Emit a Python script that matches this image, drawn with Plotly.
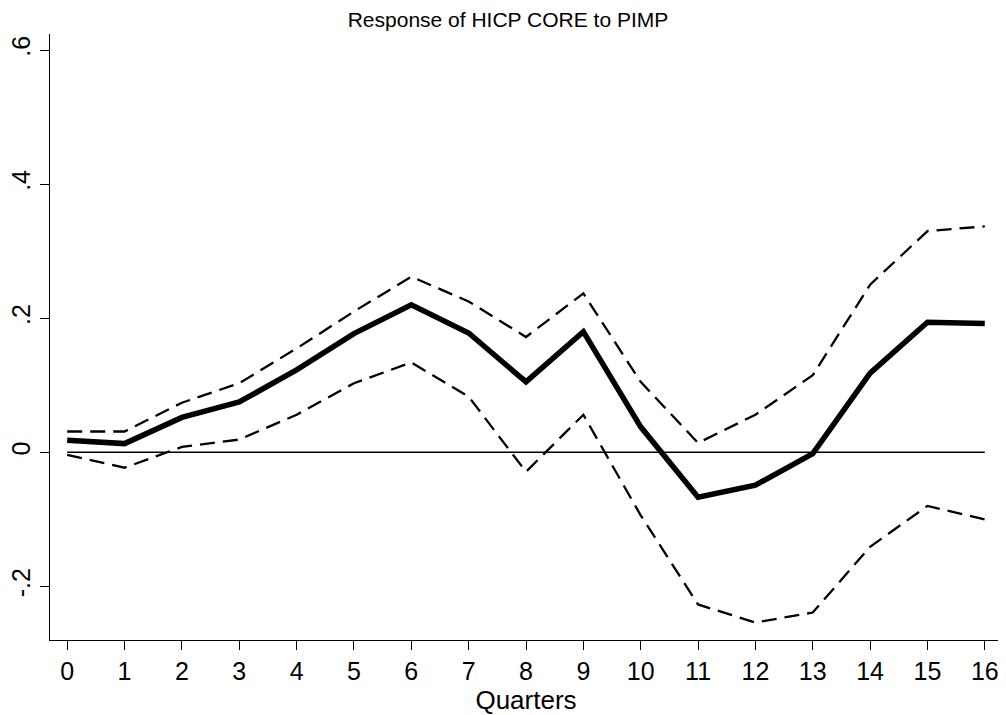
import plotly.graph_objects as go

quarters = list(range(17))
response = [0.018, 0.013, 0.052, 0.075, 0.123, 0.177, 0.220, 0.178, 0.105, 0.180,
            0.038, -0.067, -0.049, -0.002, 0.118, 0.194, 0.192]
upper = [0.031, 0.031, 0.074, 0.103, 0.155, 0.210, 0.262, 0.225, 0.172, 0.237,
         0.105, 0.014, 0.056, 0.115, 0.250, 0.330, 0.337]
lower = [-0.004, -0.023, 0.008, 0.019, 0.056, 0.103, 0.134, 0.083, -0.029, 0.056,
         -0.094, -0.227, -0.254, -0.239, -0.141, -0.080, -0.100]
zero_line = [0.0] * 17
y_ticks = [-0.2, 0, 0.2, 0.4, 0.6]
y_tick_labels = ["-.2", "0", ".2", ".4", ".6"]

fig = go.Figure()
fig.add_trace(go.Scatter(x=quarters, y=zero_line, mode="lines",
                         line=dict(color="black", width=1.6), showlegend=False, hoverinfo="skip"))
fig.add_trace(go.Scatter(x=quarters, y=upper, mode="lines",
                         line=dict(color="black", width=2.3, dash="15px,8px"), showlegend=False))
fig.add_trace(go.Scatter(x=quarters, y=lower, mode="lines",
                         line=dict(color="black", width=2.3, dash="15px,8px"), showlegend=False))
fig.add_trace(go.Scatter(x=quarters, y=response, mode="lines",
                         line=dict(color="black", width=5.5), showlegend=False))

font_family = "Liberation Sans, Arial, Helvetica, sans-serif"
# page body has an 8px margin; figure is sized/offset to fill the 1006x715 window
W, H = 998, 707
fig.update_layout(
    width=W, height=H,
    margin=dict(l=42, r=4, t=26, b=75),
    paper_bgcolor="white", plot_bgcolor="white",
    font=dict(family=font_family, color="black"),
    title=dict(text="Response of HICP CORE to PIMP", x=(508 - 8) / W, xanchor="center",
               y=1 - 4 / H, yanchor="top", pad=dict(t=0, b=0),
               font=dict(size=21, family=font_family)),
    xaxis=dict(range=[-0.3, 16.3], tickmode="array", tickvals=quarters,
               ticktext=[str(q) for q in quarters], ticks="outside", ticklen=9,
               tickwidth=1.3, tickcolor="black", showline=True, linecolor="black",
               linewidth=1.3, showgrid=False, zeroline=False, automargin=False,
               tickfont=dict(size=25), title=dict(text="Quarters", font=dict(size=26), standoff=2)),
    yaxis=dict(range=[-0.28, 0.624], tickmode="array", tickvals=y_ticks,
               ticktext=y_tick_labels, ticks="outside", ticklen=9, tickwidth=1.3,
               tickcolor="black", showline=True, linecolor="black", linewidth=1.3,
               showgrid=False, zeroline=False, tickangle=-90, automargin=False,
               tickfont=dict(size=25)),
)

fig.write_html("out.html")
